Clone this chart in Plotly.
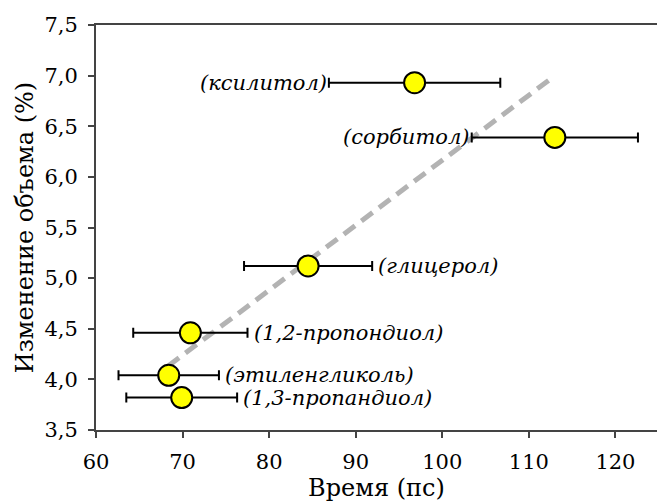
import plotly.graph_objects as go

names = ["(ксилитол)", "(сорбитол)", "(глицерол)", "(1,2-пропондиол)", "(этиленгликоль)", "(1,3-пропандиол)"]
time_ps = [96.8, 113.0, 84.5, 70.9, 68.4, 69.9]
time_err = [9.9, 9.6, 7.4, 6.6, 5.8, 6.4]
volume_change = [6.93, 6.39, 5.12, 4.46, 4.04, 3.82]
label_side = ["left", "left", "right", "right", "right", "right"]

trend_x = [68.3, 112.7]
trend_y = [4.13, 6.98]

SERIF = "DejaVu Serif"

fig = go.Figure()
fig.add_trace(go.Scatter(
    x=trend_x, y=trend_y, mode="lines",
    line=dict(color="#b3b3b3", width=5, dash="14px,8px"),
    hoverinfo="skip", showlegend=False))
fig.add_trace(go.Scatter(
    x=time_ps, y=volume_change, mode="markers",
    error_x=dict(type="data", array=time_err, visible=True, color="black", thickness=2, width=5),
    marker=dict(size=21, color="#ffff00", line=dict(color="black", width=2)),
    showlegend=False))

for n, x, e, y, side in zip(names, time_ps, time_err, volume_change, label_side):
    if side == "left":
        fig.add_annotation(x=x - e, y=y, text=n, showarrow=False, xanchor="right", xshift=0,
                           font=dict(family=SERIF, size=21, color="black", style="italic"))
    else:
        fig.add_annotation(x=x + e, y=y, text=n, showarrow=False, xanchor="left", xshift=4,
                           font=dict(family=SERIF, size=21, color="black", style="italic"))

fig.update_layout(
    width=657, height=504,
    margin=dict(l=96, r=0, t=25, b=74),
    paper_bgcolor="white", plot_bgcolor="white",
    separators=", ",
    font=dict(family=SERIF, size=21, color="black"),
    xaxis=dict(range=[60, 124.8], tickvals=[60, 70, 80, 90, 100, 110, 120],
               showline=True, linecolor="#444", linewidth=2, mirror=True,
               ticks="outside", ticklen=6, tickcolor="#444", tickwidth=2,
               ticklabelstandoff=6,
               showgrid=False, zeroline=False,
               tickfont=dict(family=SERIF, size=21),
               title=dict(text="Время (пс)", font=dict(family=SERIF, size=24), standoff=4)),
    yaxis=dict(range=[3.5, 7.5], tickvals=[3.5, 4.0, 4.5, 5.0, 5.5, 6.0, 6.5, 7.0, 7.5],
               tickformat=".1f",
               showline=True, linecolor="#444", linewidth=2,
               ticks="outside", ticklen=6, tickcolor="#444", tickwidth=2,
               ticklabelstandoff=6,
               showgrid=False, zeroline=False,
               tickfont=dict(family=SERIF, size=21),
               title=dict(text="Изменение объема (%)", font=dict(family=SERIF, size=24), standoff=4)),
)

fig.write_html("out.html")
